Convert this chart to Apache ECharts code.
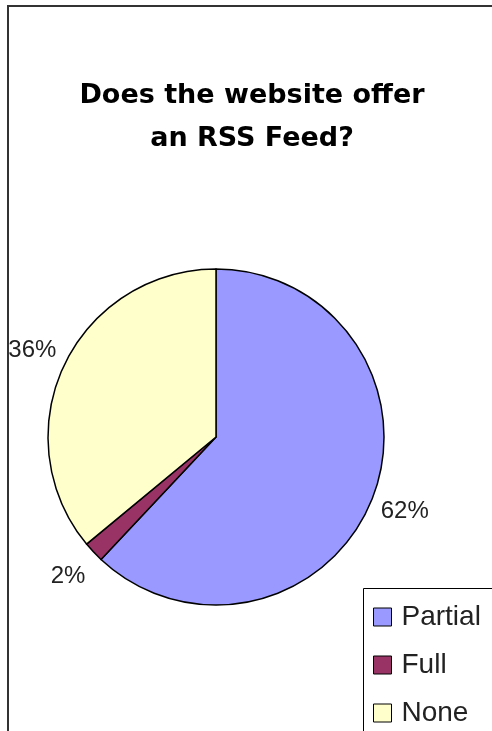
<!DOCTYPE html>
<html>
<head>
<meta charset="utf-8">
<script src="https://cdn.jsdelivr.net/npm/echarts@6/dist/echarts.min.js"></script>
<style>
  html, body { margin: 0; padding: 0; background: #fff; }
  #chart { width: 492px; height: 731px; }
</style>
</head>
<body>
<div id="chart"></div>
<script>
// RSS feed survey results
const categories = ['Partial', 'Full', 'None'];
const shares = [62, 2, 36];
const colors = ['#9999FF', '#993366', '#FFFFCC'];

const pieData = categories.map((name, i) => ({
  name: name,
  value: shares[i],
  itemStyle: { color: colors[i] }
}));

const chart = echarts.init(document.getElementById('chart'), null, { renderer: 'canvas' });

const font = 'Arial, "Liberation Sans", sans-serif';

chart.setOption({
  animation: false,
  backgroundColor: '#fff',
  title: {
    text: 'Does the website offer\nan RSS Feed?',
    left: 252,
    top: 74,
    textAlign: 'center',
    padding: 0,
    textStyle: {
      fontFamily: '"DejaVu Sans", Verdana, sans-serif',
      fontSize: 27,
      fontWeight: 'bold',
      lineHeight: 43,
      color: '#000'
    }
  },
  legend: {
    orient: 'vertical',
    left: 373,
    top: 603,
    height: 200,
    padding: 0,
    itemGap: 20,
    itemWidth: 18,
    itemHeight: 18,
    icon: 'rect',
    data: categories,
    itemStyle: { borderColor: '#000', borderWidth: 1 },
    textStyle: {
      fontFamily: font,
      fontSize: 28,
      color: '#222',
      padding: [0, 0, 0, 5]
    }
  },
  graphic: [
    {
      type: 'rect',
      shape: { x: 8, y: 6, width: 600, height: 800 },
      style: { fill: null, stroke: '#333', lineWidth: 2 },
      silent: true
    },
    {
      type: 'rect',
      shape: { x: 363.5, y: 588.5, width: 200, height: 200 },
      style: { fill: null, stroke: '#000', lineWidth: 1 },
      silent: true
    }
  ],
  series: [
    {
      type: 'pie',
      center: [216, 437],
      radius: [0, 168],
      startAngle: 90,
      clockwise: true,
      silent: true,
      label: { show: false },
      labelLine: { show: false },
      itemStyle: { borderColor: '#000', borderWidth: 1.5 },
      data: pieData
    },
    {
      // label ring: transparent sectors whose inside labels sit just outside the pie
      type: 'pie',
      center: [216, 437],
      radius: [170, 230],
      startAngle: 90,
      clockwise: true,
      silent: true,
      itemStyle: { color: 'rgba(0,0,0,0)' },
      label: {
        show: true,
        position: 'inside',
        formatter: '{c}%',
        fontFamily: font,
        fontSize: 24,
        color: '#222'
      },
      labelLine: { show: false },
      data: categories.map((name, i) => ({ name: name, value: shares[i] }))
    }
  ]
});
</script>
</body>
</html>
